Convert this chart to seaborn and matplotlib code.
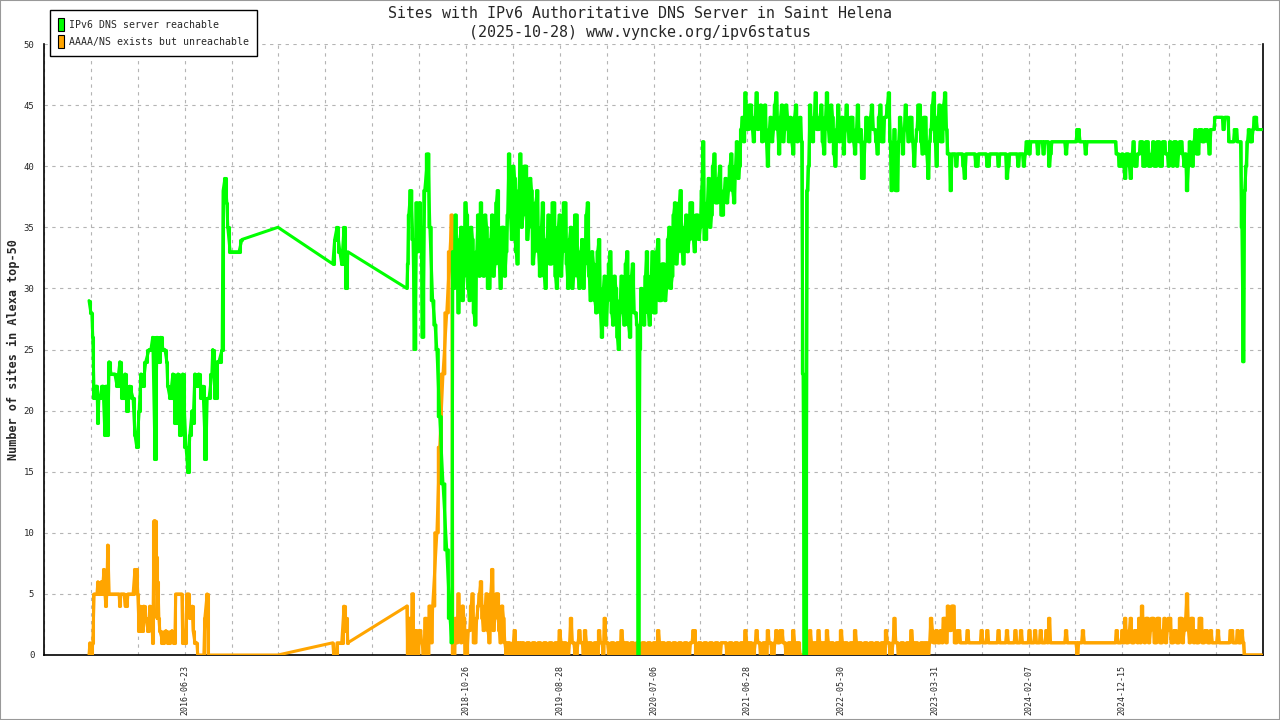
import numpy as np
import pandas as pd
import matplotlib
matplotlib.use("Agg")
import matplotlib.pyplot as plt
import seaborn as sns
from matplotlib.patches import Patch, Rectangle

# ---------------- data ----------------
# x = sample position (axis ticks every 100 samples)
green_early_x = [96, 100, 102, 104, 107, 111, 113, 115, 117, 119, 124, 126, 130, 132, 134, 136, 139, 143, 145, 151,
                 156, 162, 168, 173, 177, 183, 190, 194, 198, 203, 207, 211, 217, 224, 228, 232, 237, 241, 245, 249,
                 254, 258, 262, 264, 269, 275, 281, 286, 290, 294, 296, 303, 307, 311, 316, 318, 322, 326, 330, 337,
                 339, 345, 348, 352, 358, 360, 367, 369, 373, 380, 382, 386, 390, 392, 397, 416, 422, 499, 616, 620,
                 625, 631, 635, 640, 646, 648, 774, 776, 778, 782, 787, 791, 795, 797, 802, 804, 808, 812, 819, 823,
                 829, 834, 838, 844, 851, 859, 866, 870]
green_early_y = [29, 28, 28, 26, 21, 22, 22, 19, 21, 21, 22, 22, 18, 22, 22, 18, 24, 23, 23, 23,
                 22, 24, 21, 23, 20, 22, 21, 18, 17, 20, 23, 22, 24, 25, 25, 26, 16, 26, 24, 26,
                 25, 25, 24, 22, 21, 23, 19, 23, 18, 22, 23, 17, 15, 18, 20, 19, 23, 22, 23, 21,
                 22, 16, 21, 21, 23, 25, 21, 24, 24, 25, 38, 39, 37, 35, 33, 33, 34, 35, 32, 34,
                 35, 33, 32, 35, 30, 33, 30, 32, 36, 38, 34, 25, 37, 33, 37, 35, 26, 38, 41, 35,
                 29, 27, 25, 19.5, 14, 8.6, 3, 1]

orange_early_x = [96, 98, 102, 104, 107, 113, 115, 117, 122, 124, 128, 130, 132, 134, 136, 139, 145, 154, 160, 162,
                  164, 171, 173, 177, 179, 190, 192, 194, 196, 198, 200, 203, 205, 207, 209, 213, 217, 222, 226, 230,
                  232, 235, 237, 239, 241, 243, 245, 247, 254, 260, 266, 273, 279, 281, 290, 294, 296, 301, 305, 309,
                  311, 316, 318, 322, 326, 328, 341, 343, 348, 350, 499, 616, 618, 623, 625, 635, 640, 642, 646, 648,
                  774, 776, 780, 782, 787, 789, 793, 797, 802, 806, 810, 814, 819, 823, 827, 829, 838, 844, 851, 859,
                  866, 870]
orange_early_y = [0, 1, 0, 1, 5, 5, 6, 5, 6, 5, 7, 5, 4, 5, 9, 5, 5, 5, 5, 4,
                  5, 5, 4, 4, 5, 5, 6, 7, 6, 7, 5, 2, 4, 3, 2, 4, 3, 2, 4, 3,
                  1, 11, 11, 8, 3, 6, 3, 2, 1, 2, 1, 2, 1, 5, 5, 5, 1, 1, 5, 5,
                  3, 4, 2, 1, 1, 0, 0, 3, 5, 0, 0, 1, 0, 0, 1, 1, 4, 2, 3, 1,
                  4, 0, 3, 0, 5, 0, 2, 0, 2, 1, 0, 3, 0, 4, 1, 4, 10, 17, 23, 28,
                  33, 36]

# dense part: one reading every 3 samples starting at sample 872
dense_start = 872
dense_step = 3
green_dense = [
    33, 30, 36, 32, 28, 34, 35, 29, 31, 37, 36, 30, 29, 35, 34, 28, 27, 33, 36, 31,
    37, 33, 31, 36, 35, 30, 30, 34, 36, 31, 32, 37, 38, 32, 30, 35, 35, 31, 33, 36,
    41, 36, 34, 40, 39, 33, 32, 38, 41, 35, 36, 40, 40, 34, 35, 39, 38, 32, 33, 37,
    38, 33, 31, 35, 37, 31, 30, 34, 36, 32, 32, 37, 37, 31, 30, 35, 36, 31, 33, 37,
    37, 32, 30, 34, 35, 30, 31, 36, 36, 31, 30, 33, 34, 30, 32, 36, 37, 31, 29, 33,
    32, 29, 28, 33, 34, 28, 26, 30, 31, 27, 29, 32, 33, 28, 27, 31, 30, 26, 25, 29,
    31, 28, 27, 32, 33, 27, 26, 31, 32, 28, 28, 27, 0, 25, 30, 28, 27, 31, 33, 28,
    27, 31, 33, 28, 28, 33, 34, 29, 29, 32, 32, 29, 30, 34, 35, 30, 31, 36, 37, 32,
    33, 37, 38, 33, 32, 35, 36, 33, 34, 37, 37, 34, 33, 36, 36, 34, 35, 38, 42, 34,
    34, 37, 39, 35, 36, 40, 41, 37, 37, 39, 40, 36, 36, 38, 39, 37, 38, 40, 41, 38,
    37, 40, 42, 39, 40, 43, 44, 42, 46, 43, 43, 45, 45, 43, 42, 44, 46, 43, 44, 45,
    42, 44, 45, 42, 40, 43, 44, 42, 43, 45, 46, 43, 41, 44, 45, 42, 43, 45, 44, 42,
    44, 42, 41, 44, 45, 42, 43, 44, 42, 23, 0, 0, 38, 40, 45, 43, 42, 44, 46, 43,
    43, 44, 45, 42, 41, 44, 46, 43, 42, 45, 44, 41, 40, 43, 45, 42, 43, 44, 41, 43,
    45, 43, 42, 44, 44, 42, 41, 43, 45, 42, 43, 39, 39, 42, 44, 43, 42, 44, 45, 43,
    43, 42, 41, 44, 45, 42, 42, 44, 44, 45, 46, 42, 38, 41, 43, 38, 38, 42, 44, 43,
    41, 43, 45, 43, 42, 44, 44, 42, 40, 42, 43, 45, 45, 42, 41, 44, 44, 41, 39, 42,
    43, 45, 46, 42, 40, 44, 45, 42, 42, 45, 46, 43, 41, 41, 38, 41, 41, 41, 40, 41,
    41, 41, 41, 40, 39, 41, 41, 41, 41, 41, 41, 41, 40, 40, 41, 41, 41, 41, 41, 41,
    40, 40, 41, 41, 41, 41, 41, 41, 40, 41, 41, 41, 41, 41, 39, 40, 41, 41, 41, 41,
    41, 41, 40, 41, 41, 41, 40, 41, 42, 42, 41, 42, 42, 42, 42, 42, 41, 42, 42, 42,
    41, 42, 42, 42, 40, 41, 42, 42, 42, 42, 42, 42, 42, 42, 42, 42, 41, 42, 42, 42,
    42, 42, 42, 42, 43, 43, 42, 42, 42, 42, 41, 42, 42, 42, 42, 42, 42, 42, 42, 42,
    42, 42, 42, 42, 42, 42, 42, 42, 42, 42, 42, 42, 41, 41, 40, 40, 41, 40, 39, 41,
    41, 40, 39, 41, 42, 40, 40, 41, 41, 42, 42, 40, 40, 42, 42, 40, 40, 41, 42, 40,
    40, 42, 42, 40, 40, 42, 42, 41, 41, 40, 42, 41, 40, 42, 42, 40, 41, 42, 42, 41,
    40, 41, 38, 40, 42, 41, 40, 42, 43, 41, 41, 43, 43, 42, 42, 43, 43, 42, 41, 43,
    43, 43, 44, 44, 44, 44, 44, 44, 43, 44, 44, 44, 42, 42, 42, 42, 43, 43, 42, 42,
    42, 35, 24, 38, 40, 42, 43, 42, 42, 43, 44, 44, 43, 43, 43, 43]
orange_dense = [
    0, 0, 3, 1, 5, 2, 1, 4, 3, 0, 0, 2, 2, 4, 5, 1, 1, 3, 4, 5,
    6, 3, 2, 4, 5, 2, 1, 5, 7, 2, 3, 5, 5, 2, 1, 4, 3, 1, 0, 1,
    1, 0, 0, 1, 2, 0, 1, 1, 0, 1, 1, 0, 0, 1, 1, 0, 0, 1, 1, 0,
    0, 1, 1, 0, 0, 1, 1, 0, 0, 1, 1, 0, 0, 1, 1, 0, 2, 1, 0, 1,
    1, 0, 0, 1, 3, 1, 1, 0, 0, 1, 2, 1, 1, 0, 2, 1, 0, 1, 1, 0,
    0, 1, 1, 0, 2, 1, 1, 0, 3, 1, 1, 0, 0, 1, 1, 0, 0, 1, 1, 0,
    2, 1, 0, 1, 1, 0, 0, 1, 1, 0, 0, 1, 1, 0, 0, 1, 1, 0, 0, 1,
    1, 0, 0, 1, 1, 0, 2, 1, 0, 1, 1, 0, 0, 1, 1, 0, 0, 1, 1, 0,
    0, 1, 1, 0, 0, 1, 1, 0, 0, 1, 1, 2, 2, 0, 0, 1, 1, 0, 0, 1,
    1, 0, 0, 1, 1, 0, 0, 1, 1, 0, 0, 1, 1, 1, 1, 0, 0, 1, 1, 0,
    0, 1, 1, 0, 0, 1, 1, 0, 2, 1, 0, 1, 1, 0, 0, 1, 2, 1, 1, 0,
    0, 1, 1, 0, 2, 1, 1, 0, 0, 1, 2, 1, 1, 2, 2, 1, 1, 0, 0, 1,
    1, 0, 2, 1, 0, 1, 1, 0, 0, 0, 0, 1, 1, 0, 2, 1, 0, 1, 1, 0,
    2, 1, 0, 1, 1, 0, 2, 1, 0, 1, 1, 0, 0, 1, 1, 0, 2, 1, 0, 1,
    1, 0, 0, 1, 1, 0, 2, 1, 0, 1, 1, 0, 0, 1, 1, 0, 0, 1, 1, 0,
    0, 1, 1, 0, 0, 1, 1, 0, 2, 1, 1, 0, 0, 1, 3, 1, 1, 0, 0, 1,
    1, 0, 0, 1, 1, 0, 2, 1, 0, 1, 1, 0, 0, 1, 1, 0, 1, 1, 0, 1,
    3, 2, 1, 1, 2, 1, 1, 2, 1, 3, 3, 1, 4, 2, 2, 4, 4, 1, 1, 2,
    2, 1, 1, 1, 1, 1, 2, 1, 1, 1, 1, 1, 1, 1, 1, 1, 2, 1, 1, 1,
    2, 1, 1, 1, 1, 1, 1, 1, 2, 1, 1, 1, 1, 1, 2, 1, 1, 1, 1, 1,
    2, 1, 1, 1, 2, 1, 1, 1, 1, 1, 2, 1, 1, 1, 2, 1, 1, 1, 2, 1,
    1, 1, 2, 1, 3, 1, 1, 1, 1, 1, 1, 1, 1, 1, 1, 1, 2, 1, 1, 1,
    1, 1, 1, 1, 0, 1, 1, 1, 2, 1, 1, 1, 1, 1, 1, 1, 1, 1, 1, 1,
    1, 1, 1, 1, 1, 1, 1, 1, 1, 1, 1, 1, 2, 1, 1, 1, 2, 1, 3, 1,
    1, 2, 3, 1, 1, 2, 2, 1, 3, 1, 4, 2, 1, 3, 3, 1, 2, 3, 3, 1,
    1, 3, 3, 1, 1, 2, 3, 1, 2, 3, 3, 1, 1, 2, 2, 1, 1, 3, 3, 1,
    2, 3, 5, 2, 1, 3, 3, 1, 2, 1, 1, 3, 3, 1, 1, 2, 2, 1, 1, 2,
    1, 1, 1, 1, 2, 1, 1, 1, 1, 1, 1, 1, 1, 2, 2, 1, 1, 1, 2, 1,
    1, 2, 1, 0, 0, 0, 0, 0, 0, 0, 0, 0, 0, 0, 0, 0]

tick_positions = list(range(0, 2601, 100))
tick_dates = {300: "2016-06-23", 900: "2018-10-26", 1100: "2019-08-28", 1300: "2020-07-06",
              1500: "2021-06-28", 1700: "2022-05-30", 1900: "2023-03-31", 2100: "2024-02-07",
              2300: "2024-12-15"}
series_names = ["IPv6 DNS server reachable", "AAAA/NS exists but unreachable"]
title_lines = ["Sites with IPv6 Authoritative DNS Server in Saint Helena",
               "(2025-10-28) www.vyncke.org/ipv6status"]
y_label = "Number of sites in Alexa top-50"

# ---------------- build frames ----------------
dense_x = list(np.arange(dense_start, dense_start + dense_step * len(green_dense), dense_step))
green_df = pd.DataFrame({"x": green_early_x + dense_x, "y": green_early_y + green_dense})
orange_df = pd.DataFrame({"x": orange_early_x + dense_x, "y": orange_early_y + orange_dense})

GREEN = "#00ff00"
ORANGE = "#ffa500"
LW = 2.2

sns.set_theme(style="white")
plt.rcParams["font.family"] = ["DejaVu Sans Mono", "DejaVu Sans"]

fig = plt.figure(figsize=(12.8, 7.2), dpi=100)
ax = fig.add_axes([44 / 1280, 1 - 655 / 720, (1263 - 44) / 1280, (655 - 44) / 720])


def draw_series(df, color, z):
    # the line itself
    sns.lineplot(data=df, x="x", y="y", ax=ax, color=color, linewidth=LW,
                 estimator=None, sort=False, zorder=z)
    # stepped stroke inside the densely sampled stretches (denser, gnuplot-like texture)
    xs = df["x"].to_numpy()
    gaps = np.where(np.diff(xs) > 20)[0]
    bounds = [0] + list(gaps + 1) + [len(df)]
    for a, b in zip(bounds[:-1], bounds[1:]):
        chunk = df.iloc[a:b]
        if len(chunk) > 1:
            sns.lineplot(data=chunk, x="x", y="y", ax=ax, color=color, linewidth=LW,
                         estimator=None, sort=False, drawstyle="steps-mid", zorder=z)


draw_series(orange_df, ORANGE, 3)
draw_series(green_df, GREEN, 4)

ax.set_xlim(0, 2600)
ax.set_ylim(0, 50)
ax.set_xticks(tick_positions)
ax.set_xticklabels([tick_dates.get(t, "") for t in tick_positions], rotation=90, fontsize=6)
ax.set_yticks(range(0, 51, 5))
ax.set_yticklabels([str(v) for v in range(0, 51, 5)], fontsize=6.5)
ax.set_xlabel("")
ax.set_ylabel("")
ax.tick_params(axis="both", direction="inout", length=8, width=1, color="black", pad=3)
ax.grid(True, color="#b4b4b4", linestyle=(0, (3, 4)), linewidth=0.8, zorder=0)
ax.set_axisbelow(True)
for side in ["left", "bottom", "right"]:
    ax.spines[side].set_visible(True)
    ax.spines[side].set_color("black")
    ax.spines[side].set_linewidth(1.2)
ax.spines["top"].set_visible(False)
ax.set_facecolor("white")

fig.text(0.5, 1 - 13 / 720, title_lines[0], ha="center", va="center", fontsize=10.8)
fig.text(0.5, 1 - 32 / 720, title_lines[1], ha="center", va="center", fontsize=10.8)
fig.text(13 / 1280, 1 - 350 / 720, y_label, rotation=90, ha="center", va="center",
         fontsize=8.5, fontweight="bold")

handles = [Patch(facecolor=GREEN, edgecolor="black", linewidth=0.8),
           Patch(facecolor=ORANGE, edgecolor="black", linewidth=0.8)]
leg = fig.legend(handles, series_names, loc="upper left",
                 bbox_to_anchor=(50 / 1280, 1 - 10 / 720), borderaxespad=0, fontsize=7.1,
                 handlelength=0.6, handleheight=1.65, handletextpad=0.45,
                 labelspacing=0.38, borderpad=0.85, fancybox=False, framealpha=1)
leg.get_frame().set_edgecolor("black")
leg.get_frame().set_linewidth(1.0)

fig.patches.append(Rectangle((0, 0), 1, 1, transform=fig.transFigure, fill=False,
                             edgecolor="#999999", linewidth=1.5))

fig.savefig("out.png", dpi=100, facecolor="white")
